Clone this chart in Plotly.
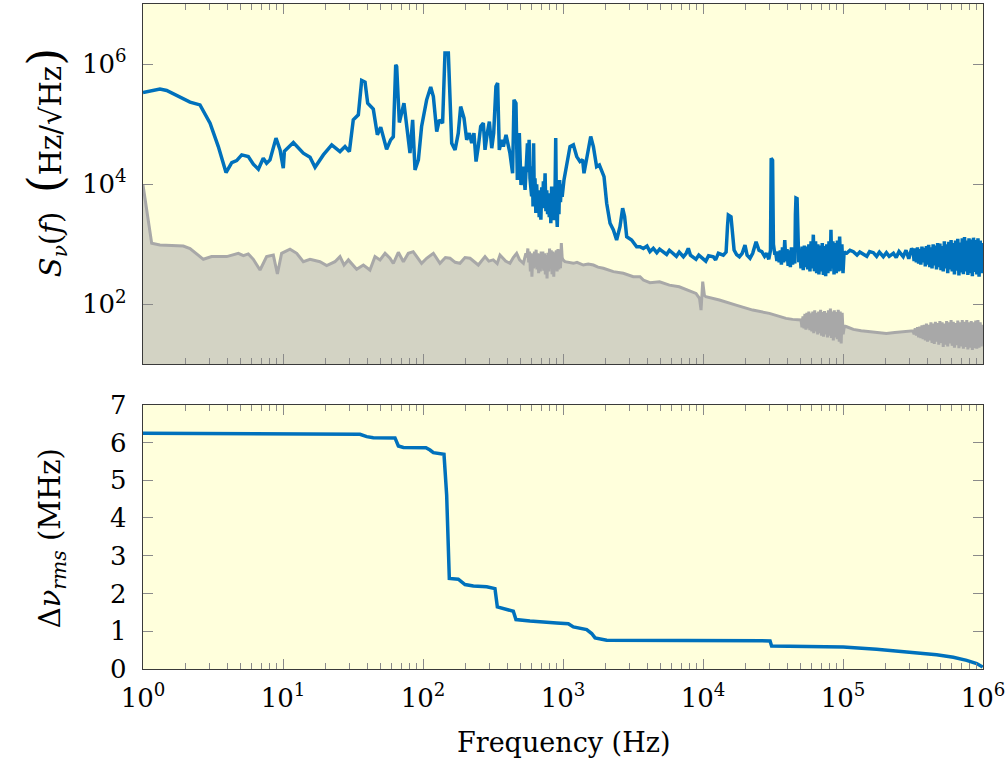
import numpy as np
import plotly.graph_objects as go

# ---------------- data ----------------
# Top panel, blue: frequency-noise spectral density (log10 of Hz, log10 of level)
psd_freq_decade = [
    0.000, 0.121, 0.169, 0.288, 0.336, 0.407, 0.479, 0.538, 0.593, 0.634,
    0.669, 0.705, 0.752, 0.788, 0.824, 0.859, 0.883, 0.907, 0.950, 0.979,
    1.002, 1.010, 1.074, 1.145, 1.193, 1.229, 1.288, 1.348, 1.407, 1.443,
    1.474, 1.502, 1.538, 1.562, 1.586, 1.605, 1.645, 1.674, 1.698, 1.740,
    1.769, 1.788, 1.805, 1.812, 1.831, 1.864, 1.883, 1.907, 1.926, 1.943,
    1.967, 1.990, 2.026, 2.055, 2.074, 2.098, 2.117, 2.140, 2.157, 2.181,
    2.205, 2.229, 2.252, 2.269, 2.293, 2.312, 2.331, 2.348, 2.364, 2.379,
    2.395, 2.412, 2.431, 2.443, 2.459, 2.474, 2.491, 2.505, 2.521, 2.533,
    2.545, 2.562, 2.574, 2.593, 2.621, 2.640, 2.650, 2.664, 2.674, 2.688,
    2.700, 2.717, 2.729,
    2.740, 2.746, 2.752, 2.758, 2.764, 2.770, 2.776, 2.781, 2.786, 2.790,
    2.795, 2.800, 2.806, 2.812, 2.818, 2.824, 2.830, 2.836, 2.842, 2.848,
    2.854, 2.860, 2.866, 2.872, 2.878, 2.884, 2.890, 2.896, 2.902, 2.908,
    2.913, 2.919, 2.925, 2.931, 2.937, 2.943, 2.948, 2.953, 2.959, 2.965,
    2.971, 2.976, 2.982, 2.988, 2.994,
    3.007, 3.026, 3.050, 3.074, 3.098, 3.121, 3.140, 3.150, 3.169, 3.198,
    3.217, 3.240, 3.260, 3.293, 3.312, 3.336, 3.360, 3.383, 3.407, 3.426,
    3.440, 3.455, 3.490, 3.526, 3.550, 3.574, 3.600, 3.621, 3.645, 3.670,
    3.690, 3.717, 3.740, 3.760, 3.788, 3.810, 3.830, 3.860, 3.880, 3.895,
    3.910, 3.930, 3.950, 3.970, 4.002, 4.020, 4.040, 4.074, 4.090, 4.110,
    4.145, 4.165, 4.175, 4.181, 4.200, 4.212, 4.222, 4.240, 4.260, 4.280,
    4.300, 4.315, 4.336, 4.355, 4.379, 4.400, 4.420, 4.440, 4.455, 4.470,
    4.482, 4.487, 4.497, 4.503, 4.512,
    4.520, 4.528, 4.536, 4.544, 4.552, 4.560, 4.568, 4.576, 4.584, 4.592,
    4.600, 4.608, 4.616, 4.624, 4.632, 4.640, 4.648, 4.656, 4.660, 4.664,
    4.672, 4.678, 4.684, 4.692, 4.700, 4.708, 4.716, 4.724, 4.732, 4.740,
    4.748, 4.756, 4.764, 4.772, 4.780, 4.788, 4.796, 4.804, 4.812, 4.820,
    4.828, 4.836, 4.844, 4.852, 4.860, 4.868, 4.876, 4.884, 4.892, 4.900,
    4.908, 4.914, 4.920, 4.928, 4.936, 4.944, 4.952, 4.960, 4.968, 4.976,
    4.984, 4.992, 5.000, 5.008, 5.016,
    5.026, 5.050, 5.074, 5.100, 5.120, 5.145, 5.170, 5.190, 5.217, 5.240,
    5.260, 5.288, 5.310, 5.330, 5.360, 5.380, 5.400, 5.430, 5.450, 5.470,
    5.490,
    5.500, 5.508, 5.516, 5.524, 5.532, 5.540, 5.548, 5.556, 5.564, 5.572,
    5.580, 5.588, 5.596, 5.604, 5.612, 5.620, 5.628, 5.636, 5.644, 5.652,
    5.660, 5.668, 5.676, 5.684, 5.692, 5.700, 5.708, 5.716, 5.724, 5.732,
    5.740, 5.748, 5.756, 5.764, 5.772, 5.780, 5.788, 5.796, 5.804, 5.812,
    5.820, 5.828, 5.836, 5.844, 5.852, 5.860, 5.868, 5.876, 5.884, 5.892,
    5.900, 5.908, 5.916, 5.924, 5.932, 5.940, 5.948, 5.956, 5.964, 5.972,
    5.980, 5.988, 5.996, 6.000,
]
psd_level_decade = [
    5.527, 5.583, 5.560, 5.417, 5.367, 5.320, 5.017, 4.627, 4.193, 4.360,
    4.393, 4.488, 4.460, 4.333, 4.250, 4.433, 4.350, 4.405, 4.767, 4.570,
    4.267, 4.550, 4.693, 4.517, 4.450, 4.283, 4.488, 4.655, 4.543, 4.627,
    4.543, 5.072, 5.155, 5.727, 5.700, 5.350, 5.250, 4.822, 4.950, 4.583,
    4.738, 4.790, 5.988, 5.960, 5.027, 5.350, 4.950, 4.517, 5.072, 4.238,
    4.405, 4.960, 5.405, 5.617, 5.460, 4.877, 5.070, 5.017, 6.183, 6.183,
    4.683, 4.572, 4.850, 5.293, 5.100, 4.738, 4.850, 4.683, 4.850, 4.377,
    4.627, 4.960, 5.017, 4.572, 4.850, 5.043, 4.600, 4.850, 5.627, 5.683,
    4.572, 4.738, 4.627, 4.822, 4.517, 4.183, 5.405, 5.350, 4.072, 4.850,
    3.988, 4.293, 3.905,
    4.60, 4.68, 4.20, 4.74, 4.10, 3.99, 3.80, 4.30, 3.63, 4.68,
    3.80, 4.10, 3.52, 4.00, 3.60, 3.90, 3.45, 3.80, 3.41, 3.95,
    3.60, 4.05, 3.70, 4.18, 3.55, 3.90, 3.50, 3.85, 3.45, 3.80,
    3.35, 3.96, 3.50, 3.90, 3.40, 3.85, 4.77, 3.60, 3.29, 3.90,
    3.50, 4.07, 3.70, 4.00, 3.79,
    4.072, 4.350, 4.627, 4.655, 4.460, 4.377, 4.410, 4.183, 4.460, 4.795,
    4.627, 4.293, 4.320, 4.127, 3.683, 3.350, 3.238, 3.072, 3.293, 3.600,
    3.460, 3.127, 3.072, 2.960, 2.960, 2.930, 2.970, 2.877, 2.933, 2.860,
    2.920, 2.877, 2.830, 2.900, 2.850, 2.800, 2.870, 2.793, 2.850, 2.933,
    2.820, 2.793, 2.750, 2.820, 2.767, 2.720, 2.810, 2.793, 2.740, 2.850,
    2.820, 2.870, 3.300, 3.488, 3.460, 3.100, 2.905, 2.830, 2.793, 2.850,
    2.988, 2.820, 2.767, 2.850, 3.043, 2.900, 2.877, 2.800, 2.850, 2.750,
    2.900, 4.433, 4.400, 3.000, 2.850,
    2.85, 2.72, 2.88, 2.70, 2.90, 2.66, 2.95, 2.70, 3.07, 2.72,
    2.92, 2.64, 2.90, 2.62, 2.95, 2.66, 2.93, 2.68, 3.50, 3.77,
    3.76, 3.40, 2.70, 2.93, 2.60, 2.96, 2.57, 2.98, 2.62, 2.96,
    2.58, 3.00, 2.55, 3.05, 2.60, 3.16, 2.55, 3.05, 2.52, 3.00,
    2.50, 2.98, 2.55, 3.02, 2.49, 2.97, 2.47, 3.00, 2.52, 3.05,
    2.55, 3.24, 2.60, 3.05, 2.50, 3.02, 2.52, 3.06, 2.55, 3.13,
    2.56, 3.00, 2.52, 2.88, 2.85,
    2.850, 2.900, 2.877, 2.820, 2.870, 2.840, 2.800, 2.880, 2.860, 2.800,
    2.870, 2.793, 2.860, 2.800, 2.850, 2.780, 2.880, 2.793, 2.900, 2.760,
    2.930,
    2.90, 2.72, 2.93, 2.70, 2.95, 2.68, 2.92, 2.66, 2.96, 2.70,
    2.94, 2.63, 2.97, 2.66, 2.99, 2.62, 2.95, 2.60, 3.00, 2.65,
    2.98, 2.58, 3.02, 2.62, 3.01, 2.57, 2.97, 2.55, 3.05, 2.60,
    3.00, 2.52, 3.04, 2.58, 3.07, 2.55, 3.02, 2.50, 3.06, 2.56,
    3.09, 2.48, 3.03, 2.53, 3.10, 2.50, 3.12, 2.55, 3.06, 2.49,
    3.10, 2.52, 3.08, 2.47, 3.11, 2.54, 3.07, 2.50, 3.10, 2.46,
    3.06, 2.52, 3.02, 2.80,
]

# Top panel, grey filled: measurement noise floor
floor_freq_decade = [
    0.000, 0.062, 0.121, 0.288, 0.336, 0.431, 0.490, 0.598, 0.681, 0.717,
    0.752, 0.788, 0.836, 0.883, 0.931, 0.960, 0.990, 1.050, 1.098, 1.145,
    1.193, 1.264, 1.312, 1.371, 1.407, 1.436, 1.467, 1.526, 1.574, 1.621,
    1.657, 1.693, 1.729, 1.764, 1.788, 1.824, 1.860, 1.895, 1.930, 1.955,
    1.990, 2.026, 2.074, 2.121, 2.160, 2.193, 2.230, 2.264, 2.300, 2.336,
    2.360, 2.395, 2.443, 2.470, 2.502, 2.530, 2.550, 2.590, 2.621, 2.645,
    2.669, 2.690, 2.717,
    2.735, 2.742, 2.749, 2.755, 2.761, 2.767, 2.773, 2.778, 2.784, 2.790,
    2.796, 2.802, 2.808, 2.814, 2.820, 2.826, 2.832, 2.838, 2.844, 2.850,
    2.856, 2.862, 2.868, 2.874, 2.880, 2.886, 2.892, 2.898, 2.904, 2.910,
    2.916, 2.922, 2.928, 2.934, 2.940, 2.946, 2.952, 2.958, 2.964, 2.970,
    2.976, 2.982, 2.988, 2.994, 3.000,
    3.014, 3.074, 3.100, 3.145, 3.180, 3.217, 3.250, 3.288, 3.360, 3.431,
    3.502, 3.550, 3.574, 3.621, 3.690, 3.760, 3.830, 3.890, 3.950, 3.975,
    3.986, 3.998, 4.010, 4.020, 4.117, 4.236, 4.355, 4.474, 4.593, 4.640,
    4.690,
    4.700, 4.707, 4.714, 4.721, 4.728, 4.735, 4.742, 4.749, 4.756, 4.763,
    4.770, 4.777, 4.784, 4.791, 4.798, 4.805, 4.812, 4.819, 4.826, 4.833,
    4.840, 4.847, 4.854, 4.861, 4.868, 4.875, 4.882, 4.889, 4.896, 4.903,
    4.910, 4.917, 4.924, 4.931, 4.938, 4.945, 4.952, 4.959, 4.966, 4.973,
    4.980, 4.987, 4.994, 5.001, 5.010,
    5.026, 5.074, 5.130, 5.193, 5.250, 5.310, 5.370, 5.430, 5.490,
    5.500, 5.508, 5.516, 5.524, 5.532, 5.540, 5.548, 5.556, 5.564, 5.572,
    5.580, 5.588, 5.596, 5.604, 5.612, 5.620, 5.628, 5.636, 5.644, 5.652,
    5.660, 5.668, 5.676, 5.684, 5.692, 5.700, 5.708, 5.716, 5.724, 5.732,
    5.740, 5.748, 5.756, 5.764, 5.772, 5.780, 5.788, 5.796, 5.804, 5.812,
    5.820, 5.828, 5.836, 5.844, 5.852, 5.860, 5.868, 5.876, 5.884, 5.892,
    5.900, 5.908, 5.916, 5.924, 5.932, 5.940, 5.948, 5.956, 5.964, 5.972,
    5.980, 5.988, 5.996, 6.000,
]
floor_level_decade = [
    3.988, 3.017, 2.988, 2.970, 2.930, 2.750, 2.795, 2.795, 2.850, 2.810,
    2.840, 2.750, 2.572, 2.795, 2.820, 2.505, 2.850, 2.917, 2.850, 2.710,
    2.750, 2.710, 2.645, 2.710, 2.795, 2.655, 2.740, 2.583, 2.655, 2.572,
    2.795, 2.740, 2.850, 2.770, 2.680, 2.867, 2.710, 2.850, 2.877, 2.795,
    2.683, 2.767, 2.850, 2.683, 2.780, 2.767, 2.700, 2.683, 2.780, 2.767,
    2.720, 2.655, 2.795, 2.720, 2.740, 2.680, 2.820, 2.720, 2.683, 2.780,
    2.850, 2.740, 2.683,
    2.85, 2.78, 2.93, 2.70, 2.88, 2.55, 2.85, 2.46, 2.80, 2.60,
    2.88, 2.62, 2.91, 2.58, 2.85, 2.52, 2.84, 2.55, 2.88, 2.60,
    2.88, 2.56, 2.85, 2.50, 2.82, 2.43, 2.86, 2.55, 2.93, 2.60,
    2.90, 2.50, 2.88, 2.46, 2.86, 2.60, 2.90, 2.55, 2.92, 2.58,
    2.90, 2.60, 3.02, 2.78, 2.74,
    2.710, 2.683, 2.700, 2.655, 2.670, 2.655, 2.620, 2.600, 2.545, 2.517,
    2.460, 2.460, 2.405, 2.360, 2.377, 2.320, 2.293, 2.240, 2.183, 2.100,
    1.905, 2.377, 2.150, 2.127, 2.072, 1.988, 1.905, 1.850, 1.767, 1.750,
    1.740,
    1.74, 1.62, 1.80, 1.60, 1.84, 1.58, 1.86, 1.60, 1.88, 1.57,
    1.85, 1.55, 1.88, 1.52, 1.90, 1.55, 1.86, 1.50, 1.88, 1.52,
    1.91, 1.48, 1.87, 1.46, 1.89, 1.50, 1.86, 1.45, 1.90, 1.48,
    1.93, 1.44, 1.88, 1.40, 1.90, 1.45, 1.87, 1.42, 1.91, 1.38,
    1.88, 1.35, 1.86, 1.50, 1.64,
    1.627, 1.583, 1.560, 1.543, 1.530, 1.517, 1.530, 1.543, 1.550,
    1.56, 1.50, 1.60, 1.48, 1.62, 1.45, 1.63, 1.44, 1.65, 1.42,
    1.66, 1.40, 1.68, 1.38, 1.66, 1.40, 1.70, 1.36, 1.68, 1.34,
    1.71, 1.38, 1.69, 1.33, 1.72, 1.36, 1.70, 1.29, 1.68, 1.33,
    1.72, 1.30, 1.70, 1.35, 1.74, 1.31, 1.71, 1.28, 1.69, 1.32,
    1.73, 1.27, 1.70, 1.30, 1.74, 1.26, 1.71, 1.29, 1.74, 1.25,
    1.70, 1.28, 1.72, 1.24, 1.70, 1.27, 1.73, 1.26, 1.74, 1.28,
    1.70, 1.30, 1.66, 1.55,
]

# Bottom panel: integrated rms linewidth (MHz)
rms_freq_decade = [
    0.000, 1.550, 1.598, 1.645, 1.800, 1.824, 1.860, 2.021, 2.050, 2.074,
    2.150, 2.169, 2.188, 2.252, 2.300, 2.360, 2.455, 2.514, 2.531, 2.574,
    2.645, 2.664, 2.764, 2.955, 3.038, 3.074, 3.169, 3.205, 3.229, 3.312,
    4.479, 4.490, 4.645, 5.002, 5.240, 5.479, 5.669, 5.788, 5.883, 5.955,
    5.998,
]
rms_mhz = [
    6.244, 6.217, 6.154, 6.127, 6.120, 5.907, 5.870, 5.860, 5.800, 5.730,
    5.687, 4.607, 2.398, 2.380, 2.238, 2.200, 2.180, 2.130, 1.645, 1.600,
    1.530, 1.310, 1.270, 1.220, 1.200, 1.115, 1.045, 0.940, 0.823, 0.761,
    0.745, 0.610, 0.600, 0.580, 0.522, 0.450, 0.380, 0.310, 0.230, 0.143,
    0.050,
]

assert len(psd_freq_decade) == len(psd_level_decade)
assert len(floor_freq_decade) == len(floor_level_decade)
assert len(rms_freq_decade) == len(rms_mhz)

x_tick_vals = [1, 10, 100, 1e3, 1e4, 1e5, 1e6]
x_tick_text = ["10<sup>0</sup>", "10<sup>1</sup>", "10<sup>2</sup>", "10<sup>3</sup>",
               "10<sup>4</sup>", "10<sup>5</sup>", "10<sup>6</sup>"]
y_top_tick_vals = [1e2, 1e4, 1e6]
y_top_tick_text = ["10<sup>2</sup>", "10<sup>4</sup>", "10<sup>6</sup>"]

# ---------------- styling ----------------
BLUE = "#0071BC"
GREY_LINE = "#A8A8A8"
GREY_FILL = "#D3D3C4"
BG = "#FFFFDC"
FRAME = "#3A3A3A"
TICK = "#8A8A8A"
FONT = "DejaVu Serif"
FS = 26
TS = 27

minor_vals = [m * 10 ** d for d in range(6) for m in range(2, 10)]

fig = go.Figure()
fig.add_trace(go.Scatter(
    x=np.power(10.0, floor_freq_decade), y=np.power(10.0, floor_level_decade),
    mode="lines", line=dict(color=GREY_LINE, width=3), fill="tozeroy",
    fillcolor=GREY_FILL, xaxis="x", yaxis="y", showlegend=False))
fig.add_trace(go.Scatter(
    x=np.power(10.0, psd_freq_decade), y=np.power(10.0, psd_level_decade),
    mode="lines", line=dict(color=BLUE, width=3.5), xaxis="x", yaxis="y",
    showlegend=False))
fig.add_trace(go.Scatter(
    x=np.power(10.0, rms_freq_decade), y=rms_mhz,
    mode="lines", line=dict(color=BLUE, width=3.5), xaxis="x2", yaxis="y2",
    showlegend=False))

common_x = dict(type="log", range=[0, 6], tickmode="array", tickvals=x_tick_vals,
                ticktext=x_tick_text, ticks="inside", ticklen=10, tickcolor=TICK,
                tickwidth=1.2, showline=True, linecolor=FRAME, linewidth=1.3,
                mirror="ticks", showgrid=False, zeroline=False, automargin=False,
                minor=dict(tickmode="array", tickvals=minor_vals, ticks="inside",
                           ticklen=6, tickcolor=TICK, tickwidth=1.1, showgrid=False),
                tickfont=dict(family=FONT, size=FS, color="black"))
common_y = dict(ticks="inside", ticklen=10, tickcolor=TICK, tickwidth=1.2,
                showline=True, linecolor=FRAME, linewidth=1.3, mirror="ticks",
                showgrid=False, zeroline=False, ticklabelstandoff=10,
                automargin=False,
                tickfont=dict(family=FONT, size=FS, color="black"))

fig.update_layout(
    width=1006, height=761,
    margin=dict(l=143, r=23, t=4, b=92, autoexpand=False),
    paper_bgcolor="white", plot_bgcolor=BG,
    font=dict(family=FONT, size=FS, color="black"),
    xaxis=dict(common_x, anchor="y", domain=[0, 1], showticklabels=False),
    xaxis2=dict(common_x, anchor="y2", domain=[0, 1], showticklabels=True,
                ticklabelstandoff=6),
    yaxis=dict(common_y, type="log", range=[1, 7], domain=[0.458, 1.0], anchor="x",
               tickmode="array", tickvals=y_top_tick_vals, ticktext=y_top_tick_text),
    yaxis2=dict(common_y, range=[0, 7], domain=[0, 0.3974], anchor="x2", dtick=1),
    annotations=[
        dict(text="<i>S</i><sub><i>ν</i></sub>(<i>f</i>)  "
                  "<span style='font-size:46px'>(</span>Hz/√Hz"
                  "<span style='font-size:46px'>)</span>",
             xref="paper", yref="paper", x=-0.1167, y=0.762, textangle=-90,
             showarrow=False, xanchor="center", yanchor="middle",
             font=dict(family=FONT, size=29, color="black")),
        dict(text="Δ<i>ν</i><sub><i>rms</i></sub> (MHz)",
             xref="paper", yref="paper", x=-0.108, y=0.197, textangle=-90,
             showarrow=False, xanchor="center", yanchor="middle",
             font=dict(family=FONT, size=29, color="black")),
        dict(text="Frequency (Hz)", xref="paper", yref="paper", x=0.5, y=-0.111,
             showarrow=False, xanchor="center", yanchor="middle",
             font=dict(family=FONT, size=TS, color="black")),
    ],
)

fig.write_html("out.html")
